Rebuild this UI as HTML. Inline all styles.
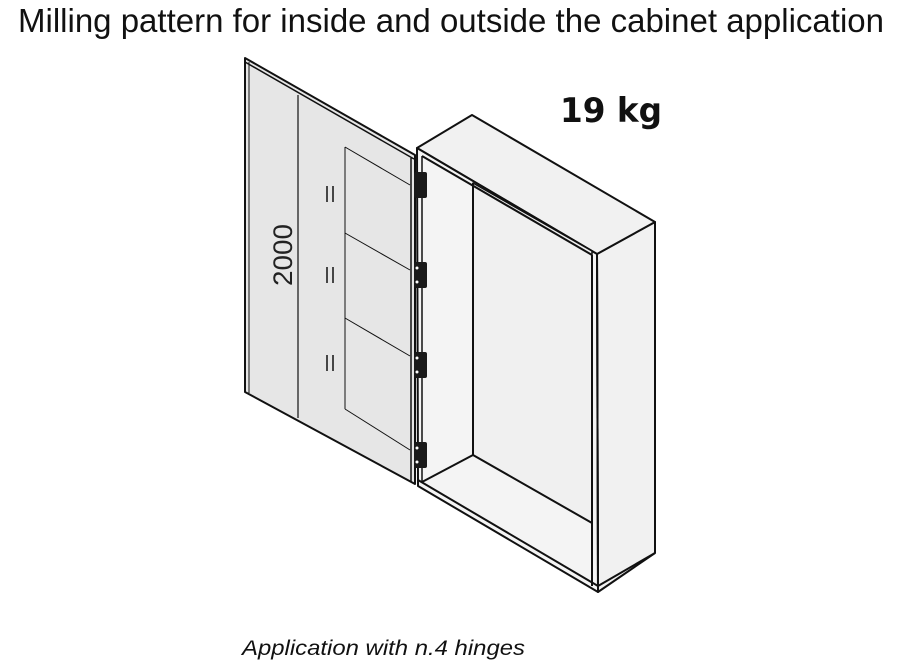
<!DOCTYPE html>
<html><head><meta charset="utf-8"><style>
html,body{margin:0;padding:0;background:#fff;width:903px;height:670px;overflow:hidden}
svg{display:block}
</style></head><body>
<svg width="903" height="670" viewBox="0 0 903 670" xmlns="http://www.w3.org/2000/svg">
<text x="451" y="32" text-anchor="middle" font-family="Liberation Sans, sans-serif" font-size="33" textLength="866" lengthAdjust="spacingAndGlyphs" fill="#111">Milling pattern for inside and outside the cabinet application</text>
<text x="560" y="122" font-family="DejaVu Sans, sans-serif" font-weight="bold" font-size="34" fill="#111" textLength="102" lengthAdjust="spacingAndGlyphs">19 kg</text>

<!-- cabinet -->
<g stroke="#111" stroke-linejoin="round" fill="#f1f1f1">
  <polygon points="597,254 655,222 655,553 598,592" stroke-width="2"/>
  <polygon points="417,148 472,115 655,222 597,254" stroke-width="2"/>
  <polygon points="417,148 597,254 598,592 418,486" fill="#f4f4f4" stroke-width="2"/>
  <polygon points="473,183 592,251 592,523 473,455" fill="#f0f0f0" stroke-width="1.5"/>
  <polyline points="422,482 473,455" fill="none" stroke-width="2"/>
  <polyline points="473,183 473,455 592,523" fill="none" stroke-width="2"/>
  <line x1="422" y1="156" x2="592" y2="255" stroke-width="2"/>
  <line x1="422" y1="156" x2="422" y2="482" stroke-width="1.5"/>
  <line x1="592" y1="255" x2="592" y2="586" stroke-width="2"/>
  <line x1="418" y1="480" x2="598" y2="586" stroke-width="2"/>
  <line x1="598" y1="586" x2="655" y2="553" stroke-width="2"/>
  <line x1="597" y1="254" x2="598" y2="592" stroke-width="2"/>
</g>

<!-- door -->
<g stroke="#111" stroke-linejoin="round">
  <polygon points="245,58 415,155 415,484 245,392" fill="#e6e6e6" stroke-width="2"/>
  <line x1="245" y1="62" x2="414" y2="159" stroke-width="1.5"/>
  <line x1="249" y1="62" x2="249" y2="393" stroke-width="1"/>
  <line x1="411" y1="158" x2="411" y2="482" stroke-width="1.5"/>
  <line x1="298" y1="95" x2="298" y2="418" stroke-width="1.2"/>
  <g stroke-width="1" fill="none">
    <line x1="345" y1="147" x2="345" y2="409"/>
    <line x1="345" y1="147" x2="410" y2="185"/>
    <line x1="345" y1="233" x2="410" y2="270"/>
    <line x1="345" y1="318" x2="410" y2="356"/>
    <line x1="345" y1="409" x2="410" y2="450"/>
  </g>
  <g stroke-width="1.5">
    <line x1="327" y1="186" x2="327" y2="202"/><line x1="333" y1="186" x2="333" y2="202"/>
    <line x1="327" y1="267" x2="327" y2="283"/><line x1="333" y1="267" x2="333" y2="283"/>
    <line x1="327" y1="355" x2="327" y2="371"/><line x1="333" y1="355" x2="333" y2="371"/>
  </g>
</g>
<text transform="translate(292,255) rotate(-90) scale(1,0.8)" text-anchor="middle" font-family="Liberation Sans, sans-serif" font-size="34" fill="#222" textLength="62" lengthAdjust="spacingAndGlyphs">2000</text>

<!-- hinges -->
<g fill="#1a1a1a">
  <rect x="414" y="172" width="13" height="26" rx="2"/>
  <rect x="414" y="262" width="13" height="26" rx="2"/>
  <rect x="414" y="352" width="13" height="26" rx="2"/>
  <rect x="414" y="442" width="13" height="26" rx="2"/>
</g>
<g fill="#fff">
  <circle cx="417" cy="268" r="1.5"/><circle cx="417" cy="282" r="1.5"/>
  <circle cx="417" cy="358" r="1.5"/><circle cx="417" cy="372" r="1.5"/>
  <circle cx="417" cy="448" r="1.5"/><circle cx="417" cy="462" r="1.5"/>
</g>

<text x="242" y="655" font-family="Liberation Sans, sans-serif" font-style="italic" font-size="21" fill="#111" textLength="283" lengthAdjust="spacingAndGlyphs">Application with n.4 hinges</text>
</svg>
</body></html>
